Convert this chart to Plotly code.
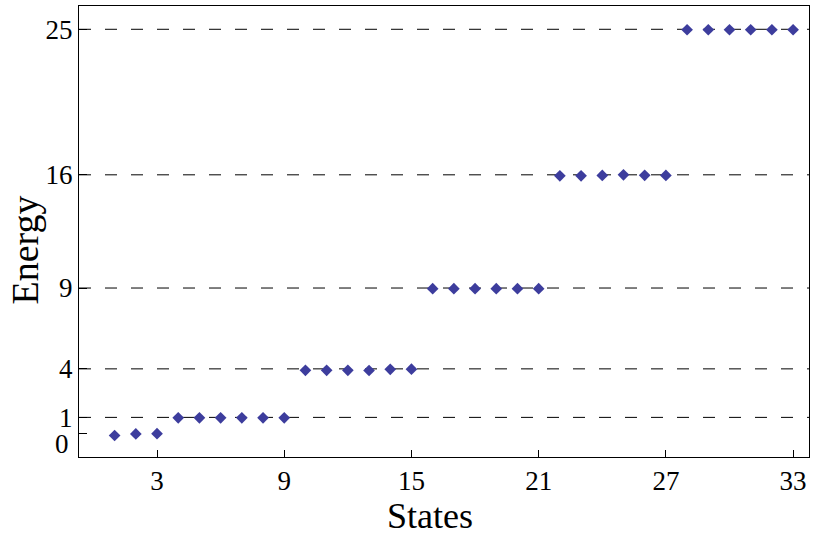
import plotly.graph_objects as go

states = list(range(1, 34))
energy = [-0.12, -0.02, -0.01,
          0.97, 0.97, 0.97, 0.97, 0.97, 0.97,
          3.91, 3.91, 3.91, 3.9, 3.97, 3.98,
          8.96, 8.96, 8.96, 8.96, 8.96, 8.96,
          15.94, 15.94, 15.96, 16.0, 15.97, 15.96,
          24.97, 24.97, 24.97, 24.97, 24.97, 24.97]
levels = [1, 4, 9, 16, 25]
yticks = [0, 1, 4, 9, 16, 25]
ytext = ["", "1", "4", "9", "16", "25"]
xticks = [3, 9, 15, 21, 27, 33]

FONT = "Liberation Serif"

fig = go.Figure()
for lv in levels:
    fig.add_hline(y=lv, line=dict(color="black", width=1, dash="12px,14px"), layer="below")

fig.add_trace(go.Scatter(
    x=states, y=energy, mode="markers",
    marker=dict(symbol="diamond", size=9, color="#3d3d9d", line=dict(width=0)),
    showlegend=False,
))

# label for the zero tick, nudged down as in the reference
fig.add_annotation(x=0, xref="paper", y=yticks[0], yref="y", text="0",
                   showarrow=False, xanchor="right", xshift=-8, yshift=-10,
                   font=dict(family=FONT, size=27, color="black"))
# axis titles
fig.add_annotation(x=0.5, xref="paper", y=0, yref="paper", text="States",
                   showarrow=False, xanchor="center", yanchor="top",
                   xshift=-14, yshift=-37,
                   font=dict(family=FONT, size=36, color="black"))
fig.add_annotation(x=0, xref="paper", y=0.5, yref="paper", text="Energy",
                   showarrow=False, textangle=-90, xanchor="right", yanchor="middle",
                   xshift=-32, yshift=-19,
                   font=dict(family=FONT, size=38, color="black"))

fig.update_layout(
    width=817, height=540,
    margin=dict(l=79, r=8, t=6, b=83),
    paper_bgcolor="white", plot_bgcolor="white",
    font=dict(family=FONT, size=27, color="black"),
)
fig.update_xaxes(
    range=[-0.68, 33.75], tickvals=xticks, ticktext=[str(v) for v in xticks],
    ticks="inside", ticklen=7, tickcolor="black", tickwidth=1,
    showline=True, linecolor="black", linewidth=1, mirror=True,
    showgrid=False, zeroline=False,
)
fig.update_yaxes(
    range=[-1.45, 26.44], tickvals=yticks, ticktext=ytext,
    ticks="inside", ticklen=8, tickcolor="black", tickwidth=1,
    showline=True, linecolor="black", linewidth=1, mirror=True,
    showgrid=False, zeroline=False,
)

fig.write_html("out.html")
